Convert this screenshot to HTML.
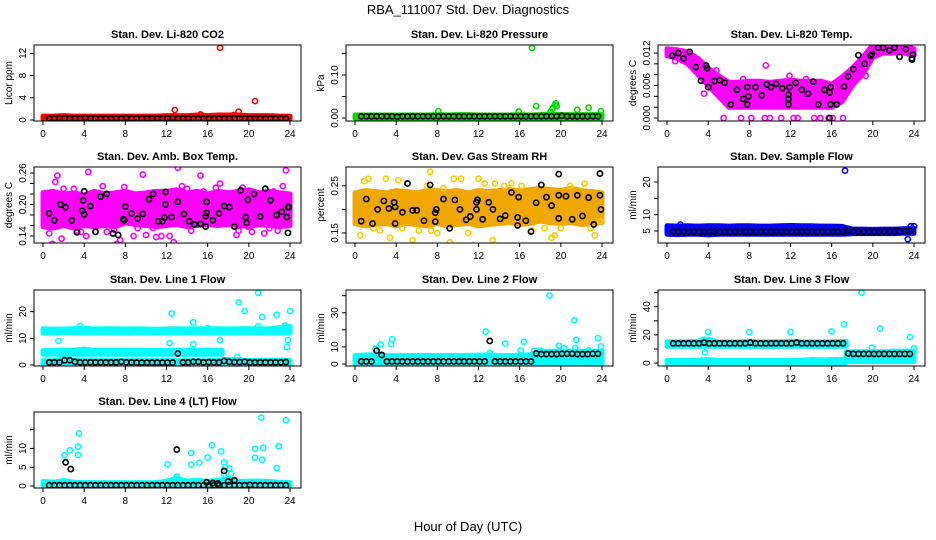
<!DOCTYPE html>
<html><head><meta charset="utf-8"><style>
body{margin:0;background:#fff;}
svg{display:block;font-family:"Liberation Sans",Arial,sans-serif;}
</style></head><body>
<svg id="chart" width="936" height="540" viewBox="0 0 936 540" xmlns="http://www.w3.org/2000/svg">
<rect width="936" height="540" fill="#fff"/>
<text x="468" y="14" text-anchor="middle" font-size="13">RBA_111007  Std. Dev. Diagnostics</text>
<text x="468" y="531" text-anchor="middle" font-size="13">Hour of Day (UTC)</text>
</svg>
<script>
const HOURS=[0,1,2,3,4,5,6,7,8,9,10,11,12,13,14,15,16,17,18,19,20,21,22,23,24];
const XTICKS=[0,4,8,12,16,20,24];
const HALF=[0.6,1.1,1.6,2.1,2.6,3.1,3.6,4.1,4.6,5.1,5.6,6.1,6.6,7.1,7.6,8.1,8.6,9.1,9.6,10.1,10.6,11.1,11.6,12.1,12.6,13.1,13.6,14.1,14.6,15.1,15.6,16.1,16.6,17.1,17.6,18.1,18.6,19.1,19.6,20.1,20.6,21.1,21.6,22.1,22.6,23.1,23.6];

// CO2
const co2Lo=[0.1,0.1,0.1,0.1,0.1,0.1,0.1,0.1,0.1,0.1,0.1,0.1,0.1,0.1,0.1,0.1,0.1,0.1,0.1,0.1,0.1,0.1,0.1,0.1,0.1];
const co2Hi=[0.7,0.7,0.8,0.7,0.7,0.7,0.7,0.7,0.7,0.7,0.7,0.7,0.8,0.8,0.8,0.9,0.8,0.9,0.9,0.9,0.8,0.8,0.8,0.7,0.7];
const co2OutX=[12.8,15.3,17.2,18.5,19.0,20.6];
const co2OutY=[1.8,1.0,13.0,0.9,1.5,3.4];
const co2Black=[0.3,0.3,0.35,0.3,0.3,0.3,0.3,0.35,0.3,0.3,0.3,0.3,0.3,0.3,0.3,0.35,0.3,0.3,0.3,0.3,0.3,0.3,0.3,0.3,0.35,0.3,0.3,0.3,0.3,0.3,0.3,0.3,0.3,0.3,0.3,0.3,0.3,0.3,0.3,0.3,0.3,0.3,0.3,0.3,0.3,0.3,0.3];
// Pressure
const presLo=[0,0,0,0,0,0,0,0,0,0,0,0,0,0,0,0,0,0,0,0,0,0,0,0,0];
const presHi=[0.007,0.007,0.007,0.007,0.007,0.007,0.007,0.007,0.008,0.007,0.008,0.008,0.007,0.007,0.007,0.007,0.008,0.007,0.008,0.009,0.008,0.008,0.008,0.008,0.008];
const presOutX=[8.1,15.9,17.2,17.6,19.0,19.2,19.4,19.5,19.6,21.6,22.7,23.9];
const presOutY=[0.016,0.015,0.163,0.028,0.015,0.022,0.03,0.034,0.028,0.019,0.024,0.016];
const presBlack=[0.004,0.004,0.004,0.004,0.004,0.004,0.004,0.003,0.004,0.004,0.004,0.004,0.004,0.004,0.004,0.004,0.004,0.004,0.004,0.004,0.004,0.004,0.004,0.004,0.004,0.004,0.004,0.004,0.004,0.004,0.004,0.004,0.004,0.004,0.004,0.004,0.004,0.004,0.004,0.005,0.004,0.004,0.004,0.004,0.004,0.004,0.004];
// Li-820 temp
const tempLo=[0.0115,0.011,0.010,0.008,0.006,0.004,0.002,0.002,0.002,0.002,0.002,0.002,0.002,0.002,0.002,0.002,0.002,0.003,0.006,0.008,0.0112,0.012,0.012,0.012,0.0115];
const tempHi=[0.0128,0.0126,0.0122,0.011,0.0092,0.0078,0.0066,0.0066,0.0068,0.0068,0.0066,0.0068,0.0070,0.0068,0.0068,0.0068,0.0062,0.0076,0.0092,0.0112,0.0135,0.0135,0.0135,0.0134,0.0128];
const tempOutX=[5.5,7.2,8.2,9.5,10.0,11.1,12.3,12.7,14.3,14.9,15.7,16.1,17.1,7.4,9.6,11.9,13.5,3.6,4.8,0.8,17.0,18.6,19.3];
const tempOutY=[0,0,0,0,0,0,0,0,0,0,0,0,0,0.0072,0.0097,0.0078,0.0072,0.0045,0.0088,0.0105,0.0072,0.0085,0.0078];
const tempBX=[0.5,1.1,1.6,2.2,2.8,3.3,3.8,3.9,4.0,4.6,5.1,5.6,6.2,6.8,7.4,7.8,7.9,7.8,8.6,9.2,9.7,10.1,10.6,11.2,11.8,11.8,11.9,11.8,12.5,13.1,13.7,14.2,14.7,15.3,15.8,15.9,15.9,15.8,16.5,17.2,17.6,18.1,18.6,19.2,19.8,19.9,20.5,21.0,21.6,22.1,22.6,23.2,23.8,23.8,23.9];
const tempBY=[0.0115,0.012,0.011,0.0122,0.0094,0.0069,0.0097,0.0092,0.0057,0.0068,0.007,0.0065,0.0025,0.0052,0.0035,0.0057,0.004,0.0025,0.0057,0.0042,0.0062,0.0057,0.0063,0.0055,0.0043,0.0035,0.0057,0.0025,0.0065,0.0052,0.0045,0.0067,0.0025,0.0052,0.0047,0.0057,0.0025,0.0,0.0025,0.0058,0.0077,0.009,0.0116,0.01,0.0115,0.0118,0.013,0.013,0.0125,0.013,0.0113,0.0127,0.011,0.0108,0.0117];
// Amb box temp
const ambLo=[0.158,0.155,0.16,0.155,0.16,0.158,0.16,0.158,0.165,0.162,0.16,0.158,0.16,0.162,0.158,0.16,0.162,0.16,0.162,0.16,0.158,0.162,0.16,0.158,0.16];
const ambHi=[0.222,0.225,0.22,0.222,0.218,0.225,0.22,0.222,0.225,0.22,0.222,0.225,0.225,0.228,0.222,0.225,0.22,0.225,0.222,0.225,0.228,0.222,0.225,0.222,0.22];
const ambOutX=[0.2,0.6,0.9,1.2,1.4,1.8,2.0,2.6,3.0,3.3,3.7,4.2,4.4,5.2,5.8,6.2,6.9,7.2,7.5,7.9,8.5,8.8,9.2,9.7,10.0,10.7,11.0,11.5,12.3,12.7,13.1,13.5,14.0,14.4,15.3,15.6,16.8,17.2,17.6,18.8,19.0,19.4,19.9,20.3,21.5,22.0,22.4,22.8,23.3,23.6,23.9];
const ambOutY=[0.165,0.145,0.125,0.243,0.255,0.135,0.23,0.215,0.23,0.15,0.148,0.14,0.262,0.158,0.235,0.148,0.152,0.125,0.132,0.233,0.215,0.14,0.155,0.257,0.142,0.155,0.138,0.14,0.14,0.128,0.27,0.235,0.23,0.15,0.255,0.225,0.232,0.24,0.222,0.142,0.15,0.232,0.158,0.148,0.145,0.155,0.225,0.15,0.235,0.265,0.21];
const ambBX=[0.6,1.1,1.7,2.2,2.8,3.3,3.8,3.9,4.0,4.0,4.6,5.1,5.6,6.2,6.8,7.3,7.8,7.9,8.0,8.6,9.2,9.7,10.3,10.7,11.2,11.6,11.8,11.9,11.9,12.5,13.1,13.7,14.2,14.7,15.3,15.8,15.9,15.9,15.8,16.5,17.1,17.6,18.1,18.6,19.2,19.7,19.8,19.9,20.5,21.1,21.6,22.1,22.7,23.2,23.7,23.8,23.8,23.9];
const ambBY=[0.183,0.17,0.2,0.195,0.17,0.147,0.188,0.208,0.225,0.181,0.197,0.148,0.215,0.22,0.145,0.142,0.172,0.17,0.196,0.183,0.173,0.182,0.21,0.22,0.168,0.168,0.175,0.224,0.2,0.176,0.205,0.182,0.168,0.162,0.163,0.158,0.205,0.184,0.178,0.17,0.183,0.197,0.195,0.158,0.227,0.176,0.165,0.209,0.22,0.177,0.23,0.208,0.18,0.186,0.176,0.146,0.195,0.195];
// Gas stream RH
const rhLo=[0.17,0.165,0.168,0.17,0.165,0.17,0.168,0.165,0.17,0.165,0.168,0.17,0.165,0.168,0.17,0.172,0.168,0.17,0.175,0.172,0.17,0.172,0.168,0.17,0.172];
const rhHi=[0.235,0.24,0.238,0.235,0.24,0.238,0.235,0.24,0.24,0.238,0.24,0.235,0.24,0.238,0.24,0.242,0.24,0.242,0.245,0.242,0.24,0.245,0.24,0.238,0.235];
const rhOutX=[0.5,0.9,1.3,1.8,2.4,3.0,3.4,4.2,4.6,5.6,6.2,7.0,7.3,7.4,8.0,8.6,9.2,9.6,10.3,11.0,12.0,12.6,13.4,13.6,14.5,15.2,16.2,17.2,18.4,19.1,19.4,20.0,20.9,22.3,22.9,23.3,23.8];
const rhOutY=[0.145,0.26,0.265,0.16,0.155,0.265,0.14,0.262,0.16,0.135,0.155,0.25,0.28,0.155,0.15,0.245,0.13,0.265,0.265,0.15,0.265,0.255,0.135,0.255,0.25,0.255,0.25,0.155,0.16,0.14,0.145,0.16,0.25,0.255,0.16,0.145,0.175];
const rhBX=[0.6,1.1,1.7,2.2,2.8,3.3,3.8,3.9,3.9,4.6,5.1,5.6,6.0,6.7,7.3,7.8,7.8,7.9,8.6,9.2,9.7,10.2,10.8,11.2,11.8,11.9,11.8,12.4,13.0,13.4,14.1,14.6,15.2,15.8,15.8,15.9,16.6,17.1,17.6,18.1,18.6,19.1,19.8,19.8,19.8,20.5,21.1,21.6,22.1,22.7,23.2,23.8,23.8,23.9];
const rhBY=[0.175,0.222,0.17,0.2,0.218,0.202,0.215,0.17,0.205,0.194,0.255,0.198,0.198,0.176,0.252,0.193,0.174,0.2,0.222,0.16,0.22,0.2,0.178,0.185,0.2,0.22,0.215,0.179,0.215,0.2,0.18,0.187,0.236,0.183,0.166,0.226,0.176,0.153,0.214,0.252,0.226,0.208,0.275,0.23,0.181,0.228,0.179,0.23,0.186,0.225,0.168,0.276,0.23,0.2];
// Sample flow
const sfLo=[4.0,3.9,4.0,4.0,3.8,4.0,4.0,4.0,4.0,4.0,4.0,4.0,4.0,4.0,4.0,4.0,4.0,4.0,4.2,4.2,4.2,4.2,4.2,4.3,4.3];
const sfHi=[6.6,6.5,6.6,6.5,6.6,6.6,6.5,6.6,6.6,6.5,6.5,6.6,6.7,6.6,6.6,6.5,6.5,6.4,5.6,5.6,5.5,5.6,5.6,5.7,5.8];
const sfOutX=[1.3,17.3,23.4,23.7,24.0];
const sfOutY=[7.0,23.5,2.5,6.5,6.5];
const sfBlack=[4.8,4.8,4.8,4.8,4.8,4.8,4.8,4.8,4.8,4.8,4.8,4.8,4.8,4.8,4.8,4.8,4.8,4.8,4.8,4.8,4.8,4.8,4.8,4.8,4.8,4.8,4.8,4.8,4.8,4.8,4.8,4.8,4.8,4.8,5.0,4.9,4.8,4.8,4.8,4.8,4.8,4.8,4.8,4.9,4.9,4.9,5.0];
// Line 1 flow
const l1aLo=[12.0,12.0,12.2,12.1,12.0,12.0,12.1,12.0,12.0,12.1,12.0,12.0,12.1,12.0,12.0,12.0,12.0,12.0,12.0,12.0,12.1,12.0,12.0,12.0,12.0];
const l1aHi=[13.6,13.4,13.5,13.6,13.8,13.5,13.6,13.6,13.5,13.6,13.5,13.4,13.5,13.6,13.5,13.6,13.6,13.6,13.5,13.6,13.6,13.5,13.6,14.0,14.5];
const l1bLo=[4.0,4.0,4.0,4.1,4.0,4.0,4.0,4.0,4.0,4.0,4.0,4.0,4.0,4.0,4.0,4.0,4.0,4.0];
const l1bHi=[5.4,5.4,5.5,5.6,6.0,5.5,5.5,5.5,5.5,5.5,5.5,5.5,5.4,5.5,5.5,5.5,5.5,5.5];
const l1cLo=[0.3,0.3,0.3,0.3,0.3,0.3,0.3,0.3,0.3,0.3,0.3,0.3,0.3,0.3,0.3,0.3,0.3,0.3,0.3,0.3,0.3,0.3,0.3,0.3,0.3];
const l1cHi=[1.6,1.6,2.3,1.8,1.6,1.6,1.6,1.6,1.6,1.6,1.6,1.6,1.6,1.6,1.6,1.6,1.6,1.7,2.2,2.0,1.7,1.7,1.7,1.8,1.7];
const l1OutX=[1.5,3.6,12.3,12.5,14.6,14.6,16.0,17.2,18.9,19.0,19.6,20.9,20.9,21.3,22.7,23.5,23.7,23.8,24.0];
const l1OutY=[9.0,14.6,8.2,19.3,16.0,7.8,13.8,9.3,3.0,23.5,20.2,27.0,14.5,18.0,18.8,14.8,6.7,9.3,20.2];
const l1Black=[1.0,1.0,1.0,1.8,1.8,1.2,1.0,1.0,1.0,1.0,1.0,1.0,1.0,1.0,1.2,1.0,1.0,0.9,0.9,0.9,0.9,0.9,0.9,0.9,0.9,4.3,1.0,1.0,1.2,1.2,1.0,1.1,1.0,1.0,1.5,1.2,1.1,1.1,1.2,1.0,1.0,1.0,1.0,1.0,1.0,1.0,1.1];
// Line 2 flow
const l2aLo=[0,0,0,0,0,0,0,0,0,0,0,0,0,0,0,0,0,0,0.5,0.5,0.5,0.5,0.5,0.5,0.5];
const l2aHi=[5.0,5.2,5.5,5.0,5.0,5.0,5.0,5.0,5.0,5.0,5.0,5.0,5.2,5.3,5.0,5.0,5.0,5.5,7.5,7.5,7.5,7.5,7.5,7.5,7.5];
const l2OutX=[2.0,2.5,3.5,3.6,12.7,13.1,14.6,16.1,16.4,17.4,18.0,18.9,19.8,20.3,21.3,21.5,21.4,22.7,23.6,23.9];
const l2OutY=[9.0,11.5,11.7,14.5,19.0,6.5,12.0,8.0,13.0,7.8,7.8,40.0,10.7,9.2,25.6,14.2,9.5,8.0,15.2,10.3];
const l2Black=[1.5,1.5,1.5,7.8,5.3,1.5,1.5,1.5,1.5,1.5,1.5,1.5,1.5,1.5,1.5,1.5,1.5,1.5,1.5,1.5,1.5,1.5,1.5,1.5,1.5,13.5,1.5,1.5,1.5,1.5,1.5,1.5,1.5,1.5,6.2,5.8,5.8,5.8,5.8,6.0,6.0,6.0,5.8,5.8,5.8,6.0,6.0];
// Line 3 flow
const l3aLo=[12.0,12.0,12.0,12.0,12.0,12.0,12.0,12.0,12.0,12.0,12.0,12.0,12.0,12.0,12.0,12.0,12.0,12.0];
const l3aHi=[15.0,15.0,15.0,15.5,17.0,15.0,15.0,15.0,15.5,15.0,15.0,15.0,15.5,15.0,15.0,15.0,15.0,15.5];
const l3bLo=[0,0,0,0,0,0,0,0,0,0,0,0,0,0,0,0,0,0];
const l3bHi=[2.0,1.8,1.8,2.0,2.5,1.8,1.8,1.8,1.8,1.8,1.8,1.8,2.0,2.0,2.5,2.2,2.5,2.5];
const l3cLo=[1.0,1.0,1.0,1.0,1.0,1.0,1.0];
const l3cHi=[8.0,8.0,8.0,8.0,8.0,8.5,8.5];
const l3OutX=[3.6,3.7,4.0,8.0,12.0,16.0,17.2,18.9,19.9,20.7,23.6,24.0];
const l3OutY=[16.5,7.5,22.0,22.0,22.0,22.5,27.5,50.0,11.0,24.5,18.5,10.5];
const l3Black=[14,14,14,14,14,14,14.5,14,14,14,14,14,14,14,14,14.5,14,14,14,14,14,14,14,14,14.5,14,14,14,14,14,14,14,14,14,6.8,6.5,6.5,6.5,6.5,6.5,6.5,6.5,6.5,6.5,6.5,6.5,6.5];
// Line 4 flow
const l4Lo=[0,0,0,0,0,0,0,0,0,0,0,0,0,0,0,0,0,0,0,0,0,0,0,0,0];
const l4Hi=[1.2,1.0,1.5,1.0,0.9,0.9,0.9,0.9,0.9,0.9,0.9,0.9,1.3,2.0,1.3,1.5,1.2,1.5,2.0,1.2,1.3,1.3,1.2,1.0,0.9];
const l4OutX=[2.1,2.6,3.4,3.5,3.4,12.1,13.0,14.4,14.4,15.2,16.0,16.4,17.3,17.6,17.6,17.7,18.1,18.3,20.6,20.6,21.2,21.3,21.4,22.7,22.9,23.6];
const l4OutY=[8.2,9.5,10.5,14.0,8.3,5.8,2.5,8.8,5.7,6.2,7.6,10.8,9.2,6.3,3.0,5.0,4.7,3.3,9.9,7.5,18.2,7.0,10.2,4.8,10.6,17.5];
const l4BX=[2.2,2.7,13.0,15.9,16.5,17.0,17.6,18.0,18.6];
const l4BY=[6.3,4.5,9.7,1.0,0.8,0.7,4.0,1.2,1.5];
const l4Black=[0.2,0.2,0.2,0.2,0.2,0.2,0.2,0.2,0.2,0.2,0.2,0.2,0.2,0.2,0.2,0.2,0.2,0.2,0.2,0.2,0.2,0.2,0.2,0.2,0.2,0.2,0.2,0.2,0.2,0.2,0.2,0.2,0.2,0.2,0.2,0.2,0.2,0.2,0.2,0.3,0.2,0.2,0.2,0.2,0.2,0.2,0.2];

const H_TO17=[0,1,2,3,4,5,6,7,8,9,10,11,12,13,14,15,16,17.4];
const H_17ON=[17.4,18,19,20,21,22,24];

const NS="http://www.w3.org/2000/svg";
const svg=document.getElementById('chart');
function mk(tag,attrs,parent){const e=document.createElementNS(NS,tag);for(const k in attrs)e.setAttribute(k,attrs[k]);(parent||svg).appendChild(e);return e;}

const COLS=[34,346,658], ROWS=[45,167,290,412], W=267, HT=76;

const panels=[
 {name:'co2',title:'Stan. Dev. Li-820 CO2',ylab:'Licor ppm',c:0,r:0,lo:-0.18,hi:13.5,ticks:[0,4,8,12],labs:['0','4','8','12'],col:'#ff0000',
  bands:[[HOURS,co2Lo,co2Hi]],out:[co2OutX,co2OutY],black:[[HALF,co2Black]]},
 {name:'pressure',title:'Stan. Dev. Li-820 Pressure',ylab:'kPa',c:1,r:0,lo:-0.007,hi:0.17,ticks:[0,0.05,0.1,0.15],labs:['0.00','','0.10',''],col:'#00dd00',
  bands:[[HOURS,presLo,presHi]],out:[presOutX,presOutY],black:[[HALF,presBlack]]},
 {name:'li820-temp',title:'Stan. Dev. Li-820 Temp.',ylab:'degrees C',c:2,r:0,lo:-0.00055,hi:0.01348,ticks:[0,0.002,0.004,0.006,0.008,0.01,0.012],labs:['0.000','','','0.006','','','0.012'],col:'#ff00ff',
  bands:[[HOURS,tempLo,tempHi]],out:[tempOutX,tempOutY],black:[[tempBX,tempBY]]},
 {name:'amb-box-temp',title:'Stan. Dev. Amb. Box Temp.',ylab:'degrees C',c:0,r:1,lo:0.1267,hi:0.2714,ticks:[0.14,0.16,0.18,0.2,0.22,0.24,0.26],labs:['0.14','','','0.20','','','0.26'],col:'#ff00ff',
  bands:[[HOURS,ambLo,ambHi]],out:[ambOutX,ambOutY],black:[[ambBX,ambBY]]},
 {name:'gas-stream-rh',title:'Stan. Dev. Gas Stream RH',ylab:'percent',c:1,r:1,lo:0.1287,hi:0.29,ticks:[0.15,0.2,0.25],labs:['0.15','','0.25'],col:'#f0a800',outcol:'#ffcc00',
  bands:[[HOURS,rhLo,rhHi]],out:[rhOutX,rhOutY],black:[[rhBX,rhBY]]},
 {name:'sample-flow',title:'Stan. Dev. Sample Flow',ylab:'ml/min',c:2,r:1,lo:1.33,hi:24.6,ticks:[5,10,15,20],labs:['5','10','','20'],col:'#0000ff',
  bands:[[HOURS,sfLo,sfHi]],out:[sfOutX,sfOutY],black:[[HALF,sfBlack]]},
 {name:'line1-flow',title:'Stan. Dev. Line 1 Flow',ylab:'ml/min',c:0,r:2,lo:-0.37,hi:28.1,ticks:[0,10,20],labs:['0','10','20'],col:'#00ffff',
  bands:[[HOURS,l1aLo,l1aHi],[H_TO17,l1bLo,l1bHi],[HOURS,l1cLo,l1cHi]],out:[l1OutX,l1OutY],black:[[HALF,l1Black]]},
 {name:'line2-flow',title:'Stan. Dev. Line 2 Flow',ylab:'ml/min',c:1,r:2,lo:-1.15,hi:43.3,ticks:[0,10,20,30,40],labs:['0','10','','30',''],col:'#00ffff',
  bands:[[HOURS,l2aLo,l2aHi]],out:[l2OutX,l2OutY],black:[[HALF,l2Black]]},
 {name:'line3-flow',title:'Stan. Dev. Line 3 Flow',ylab:'ml/min',c:2,r:2,lo:-2.1,hi:51.9,ticks:[0,10,20,30,40,50],labs:['0','','20','','40',''],col:'#00ffff',
  bands:[[H_TO17,l3aLo,l3aHi],[H_TO17,l3bLo,l3bHi],[H_17ON,l3cLo,l3cHi]],out:[l3OutX,l3OutY],black:[[HALF,l3Black]]},
 {name:'line4-flow',title:'Stan. Dev. Line 4 (LT) Flow',ylab:'ml/min',c:0,r:3,lo:-0.53,hi:19.7,ticks:[0,5,10,15],labs:['0','5','10',''],col:'#00ffff',
  bands:[[HOURS,l4Lo,l4Hi]],out:[l4OutX,l4OutY],black:[[HALF,l4Black],[l4BX,l4BY]]}
];

panels.forEach(p=>{
  const L=COLS[p.c], T=ROWS[p.r];
  const g=mk('g',{});
  
  
  const xs=h=>L+9+h*(W-20)/24;
  const ys=v=>T+HT-(v-p.lo)/(p.hi-p.lo)*HT;
  const clip=mk('clipPath',{id:'clip-'+p.name},g);
  mk('rect',{x:L,y:T,width:W,height:HT},clip);
  const plot=mk('g',{'clip-path':'url(#clip-'+p.name+')'},g);
  p.bands.forEach(b=>{
    const [bx,blo,bhi]=b;
    let pts=[];
    for(let i=0;i<bx.length;i++)pts.push(xs(bx[i]).toFixed(1)+','+ys(bhi[i]).toFixed(1));
    for(let i=bx.length-1;i>=0;i--)pts.push(xs(bx[i]).toFixed(1)+','+ys(blo[i]).toFixed(1));
    const poly=mk('polygon',{points:pts.join(' '),fill:p.col,stroke:p.col,'stroke-width':5,'stroke-linejoin':'round'},plot);
    
    
  });
  const [ox,oy]=p.out;
  for(let i=0;i<ox.length;i++){
    const c=mk('circle',{cx:xs(ox[i]),cy:ys(oy[i]),r:2.6,fill:'none',stroke:p.outcol||p.col,'stroke-width':1.6},plot);
    
    
  }
  p.black.forEach(s=>{
    const [bx,by]=s;
    for(let i=0;i<bx.length;i++){
      const c=mk('circle',{cx:xs(bx[i]),cy:ys(by[i]),r:2.6,fill:'none',stroke:'#000','stroke-width':1.7},plot);
      
      
    }
  });
  const box=mk('rect',{x:L,y:T,width:W,height:HT,fill:'none',stroke:'#000','stroke-width':1},g);
  
  
  const tt=mk('text',{x:L+W/2,y:T-7,'text-anchor':'middle','font-size':11,'font-weight':'bold'},g);
  tt.textContent=p.title;
  
  
  XTICKS.forEach(t=>{
    const x=xs(t);
    mk('line',{x1:x,y1:T+HT,x2:x,y2:T+HT+4,stroke:'#000'},g);
    const tx=mk('text',{x:x,y:T+HT+16,'text-anchor':'middle','font-size':10},g);
    tx.textContent=t;
    
    
  });
  p.ticks.forEach((t,i)=>{
    const y=ys(t);
    mk('line',{x1:L-4,y1:y,x2:L,y2:y,stroke:'#000'},g);
    if(p.labs[i]){
      const tx=mk('text',{x:0,y:0,'text-anchor':'middle','font-size':10,transform:'translate('+(L-8)+','+y+') rotate(-90)'},g);
      tx.textContent=p.labs[i];
      
      
    }
  });
  const yl=mk('text',{x:0,y:0,'text-anchor':'middle','font-size':10,transform:'translate('+(L-22)+','+(T+HT/2)+') rotate(-90)'},g);
  yl.textContent=p.ylab;
  
  
});
</script>
</body></html>
